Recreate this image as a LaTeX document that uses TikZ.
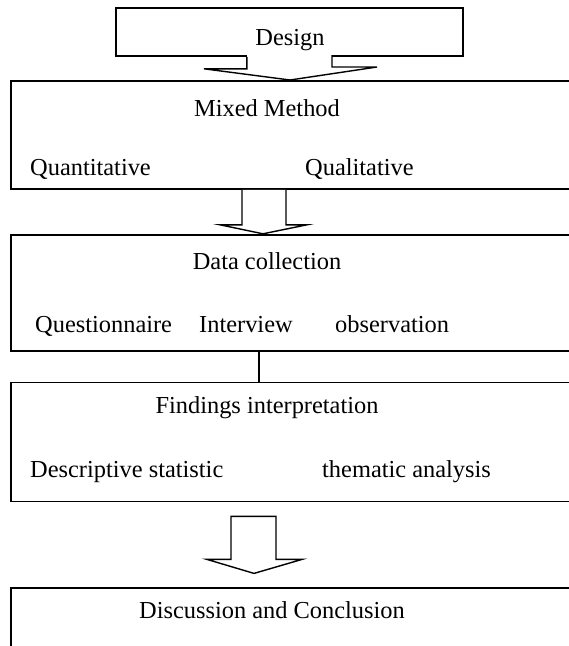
\documentclass[tikz,border=0pt]{standalone}
\usepackage{fontspec}
\setmainfont{Liberation Serif}
\usetikzlibrary{positioning,calc}
\tikzset{
  box/.style={draw=black,line width=1.8pt,rectangle,inner sep=0pt,
              minimum width=570pt},
  blk/.style={draw=black,line width=1.4pt,fill=white,line join=miter},
  lbl/.style={font=\fontsize{24.4pt}{28pt}\selectfont,inner sep=0pt},
}

\begin{document}
\begin{tikzpicture}[x=1pt,y=-1pt]
    \useasboundingbox (0,0) rectangle (569,646);
    \clip (0,0) rectangle (569,646);
    % boxes
    \node[box,minimum width=347pt,minimum height=48pt,anchor=north west] (design) at (115,7) {};
    \node[box,minimum height=108pt,anchor=north west] (mixed) at (10,80) {};
    \node[box,minimum height=116pt,below=44pt of mixed] (data) {};
    \node[box,minimum height=119pt,below=30pt of data] (findings) {};
    \node[box,minimum height=120pt,below=85pt of findings] (discuss) {};
    % texts
    \node[lbl,anchor=base] (designT) at (290,45) {Design};
    \node[lbl,anchor=base] (mixedT) at (267,116) {Mixed Method};
    \node[lbl,anchor=base west] (quant) at (30,175) {Quantitative};
    \node[lbl,anchor=base west] (qual) at (305,175) {Qualitative};
    \node[lbl,anchor=base] (dataT) at (267,269) {Data collection};
    \node[lbl,anchor=base west] (quest) at (35,332) {Questionnaire};
    \node[lbl,anchor=base west] (inter) at (199,332) {Interview};
    \node[lbl,anchor=base west] (obs) at (335,332) {observation};
    \node[lbl,anchor=base] (findT) at (267,413) {Findings interpretation};
    \node[lbl,anchor=base west] (descr) at (30,477) {Descriptive statistic};
    \node[lbl,anchor=base west] (thema) at (322,477) {thematic analysis};
    \node[lbl,anchor=base] (discT) at (272,618) {Discussion and Conclusion};
    % block arrows
    \fill[white] ($(design.south)+(-42,-2)$) rectangle ($(design.south)+(43,3)$);
    \draw[blk,fill=none] ($(design.south)+(-42.5,0)$) -- ++(0,12) -- ++(-43,0)
      -- ($(mixed.north west)+(280,0)$) -- ++(87,-13) -- ++(-45,0) -- ++(0,-12);
    \draw[blk] ($(mixed.south west)+(232,0)$) -- ++(0,35) -- ++(-22,0)
      -- ($(data.north west)+(253,0)$) -- ++(44,-9) -- ++(-21,0) -- ++(0,-35);
    \draw[line width=1.4pt] ($(data.south west)+(249,0)$) -- ($(findings.north west)+(249,0)$);
    \draw[blk] ($(findings.south west)+(221,14)$) -- ++(45,0) -- ++(0,43) -- ++(26,0)
      -- ++(-48,14) -- ++(-47,-14) -- ++(24,0) -- cycle;
  \end{tikzpicture}
\end{document}
